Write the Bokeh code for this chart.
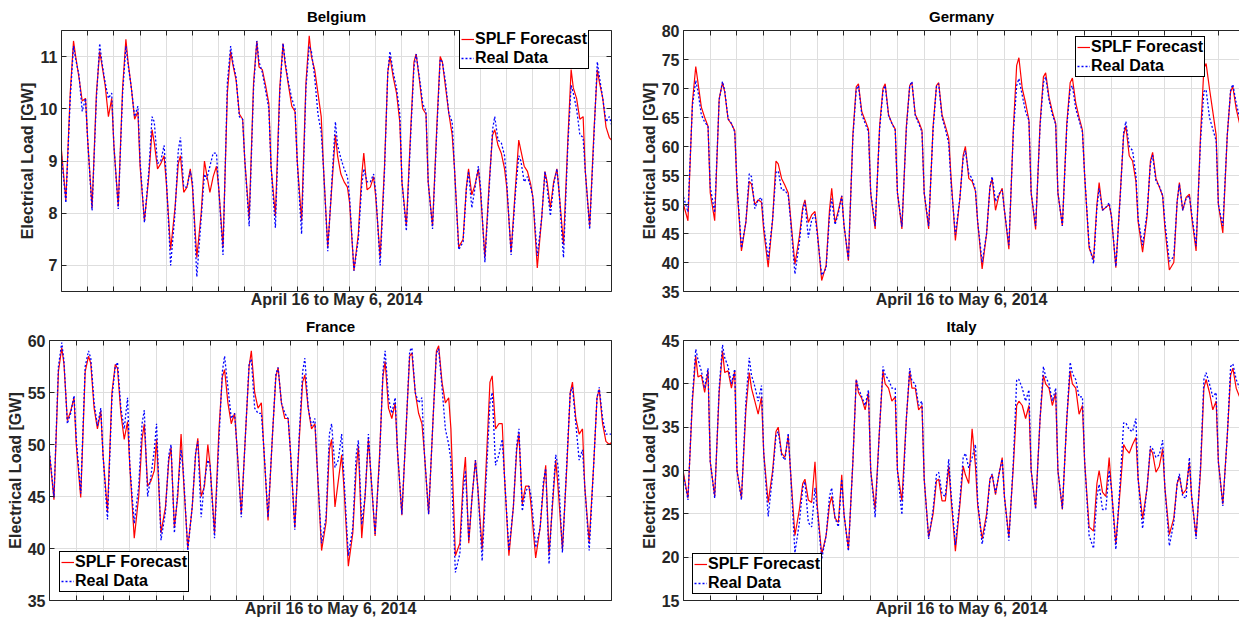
from bokeh.plotting import figure
from bokeh.layouts import column, row
from bokeh.models import (Legend, LegendItem, FixedTicker, LinearAxis, Range1d,
                          ColumnDataSource)
from bokeh.embed import file_html
from bokeh.resources import INLINE

# ---------------- data ----------------
N_DAYS = 21                                  # April 16 .. May 6, 2014
HOURS = [0, 4, 8, 11, 13, 16, 19, 22]        # sampled hours within each day
x_label = "April 16 to May 6, 2014"
y_label = "Electrical Load [GW]"
legend_labels = ["SPLF Forecast", "Real Data"]

belgium_ticks = [7, 8, 9, 10, 11]
germany_ticks = [35, 40, 45, 50, 55, 60, 65, 70, 75, 80]
france_ticks = [35, 40, 45, 50, 55, 60]
italy_ticks = [15, 20, 25, 30, 35, 40, 45]

belgium_forecast = [
    9.2, 8.25, 10.3, 11.3, 11.0, 10.6, 10.15, 10.2,
    9.4, 8.1, 10.3, 11.1, 10.85, 10.45, 9.85, 10.2,
    9.3, 8.13, 10.4, 11.33, 10.9, 10.4, 9.8, 9.95,
    8.9, 7.85, 8.7, 9.6, 9.35, 8.85, 8.95, 9.1,
    8.6, 7.3, 8.1, 8.95, 9.1, 8.4, 8.5, 8.85,
    8.5, 7.15, 8.0, 9.0, 8.75, 8.4, 8.7, 8.9,
    8.5, 7.35, 10.3, 11.1, 10.85, 10.55, 9.9, 9.8,
    9.0, 7.9, 10.5, 11.3, 10.8, 10.75, 10.45, 10.1,
    8.9, 7.95, 10.4, 11.25, 10.85, 10.45, 10.05, 9.95,
    9.0, 7.85, 10.5, 11.4, 11.0, 10.75, 10.3, 9.85,
    8.9, 7.35, 8.6, 9.5, 9.1, 8.75, 8.6, 8.5,
    8.2, 6.9, 7.6, 8.7, 9.15, 8.45, 8.5, 8.7,
    8.3, 7.15, 8.9, 10.7, 11.0, 10.6, 10.3, 9.75,
    8.6, 7.75, 9.6, 10.9, 11.05, 10.55, 10.0, 9.9,
    8.6, 7.75, 9.7, 11.0, 10.9, 10.4, 9.9, 9.5,
    8.9, 7.35, 7.5, 8.5, 8.85, 8.35, 8.55, 8.85,
    8.4, 7.15, 8.6, 9.5, 9.6, 9.3, 9.15, 8.85,
    8.5, 7.25, 8.5, 9.4, 9.2, 8.9, 8.8, 8.55,
    8.3, 6.95, 7.9, 8.8, 8.6, 8.1, 8.6, 8.85,
    8.4, 7.4, 9.4, 10.75, 10.4, 10.2, 9.8, 9.85,
    8.8, 7.75, 9.6, 10.75, 10.5, 10.2, 9.65, 9.45,
    9.4,
]
belgium_real = [
    9.1, 8.2, 10.2, 11.2, 10.95, 10.65, 9.95, 10.2,
    9.4, 8.05, 10.2, 11.25, 10.9, 10.5, 10.2, 10.3,
    9.3, 8.08, 10.3, 11.2, 10.85, 10.4, 9.85, 10.05,
    9.0, 7.82, 8.8, 9.85, 9.75, 8.95, 9.0, 9.3,
    8.7, 7.0, 8.0, 9.2, 9.45, 8.5, 8.5, 8.8,
    8.6, 6.78, 7.9, 8.75, 8.65, 8.9, 9.15, 9.15,
    8.5, 7.2, 10.5, 11.2, 10.9, 10.6, 9.85, 9.8,
    9.0, 7.75, 10.4, 11.3, 10.9, 10.7, 10.35, 10.0,
    8.9, 7.72, 10.3, 11.25, 10.9, 10.5, 10.2, 10.0,
    9.0, 7.6, 10.4, 11.2, 11.1, 10.6, 9.9, 9.55,
    8.9, 7.27, 8.7, 9.75, 9.3, 9.05, 8.85, 8.7,
    8.3, 6.9, 7.5, 8.5, 8.85, 8.6, 8.6, 8.75,
    8.4, 7.0, 8.8, 10.7, 11.1, 10.7, 10.4, 9.9,
    8.6, 7.66, 9.5, 10.8, 11.05, 10.6, 10.1, 9.95,
    8.6, 7.7, 9.6, 10.95, 10.9, 10.5, 9.9, 9.75,
    8.9, 7.3, 7.45, 8.45, 8.8, 8.1, 8.5, 8.9,
    8.5, 7.06, 8.5, 9.6, 9.85, 9.4, 9.35, 9.1,
    8.6, 7.2, 8.4, 9.1, 9.0, 8.6, 8.7, 8.5,
    8.3, 7.18, 7.9, 8.8, 8.5, 7.95, 8.55, 8.85,
    8.4, 7.15, 9.3, 10.45, 10.3, 10.0, 9.5, 9.45,
    8.8, 7.69, 9.5, 10.9, 10.6, 10.2, 9.75, 9.85,
    9.7,
]

germany_forecast = [
    50.0, 47.2, 67.6, 73.8, 71.0, 66.8, 65.0, 63.5,
    52.0, 47.2, 68.2, 71.0, 69.4, 64.7, 63.9, 62.7,
    53.0, 42.0, 47.0, 54.0, 53.5, 50.0, 50.8, 50.4,
    45.5, 39.2, 47.5, 57.5, 57.0, 54.5, 53.3, 52.0,
    48.0, 39.7, 44.5, 49.5, 50.8, 46.9, 48.2, 48.8,
    45.5, 36.9, 39.5, 49.0, 52.8, 46.8, 49.0, 51.5,
    46.5, 40.3, 62.0, 70.3, 70.8, 66.0, 64.5, 63.0,
    52.0, 45.8, 63.5, 70.0, 70.8, 65.5, 64.0, 63.0,
    52.0, 45.8, 63.5, 70.5, 71.0, 65.5, 64.3, 62.8,
    52.0, 45.8, 63.5, 70.5, 71.0, 65.5, 63.5, 61.5,
    55.0, 43.8, 51.0, 58.5, 60.0, 54.5, 54.0, 52.3,
    47.0, 38.9, 45.0, 53.0, 54.5, 49.0, 51.5, 52.8,
    49.0, 42.3, 63.0, 74.0, 75.3, 70.0, 67.5, 64.5,
    52.0, 45.7, 64.0, 72.0, 72.7, 68.5, 66.0, 64.0,
    52.0, 46.3, 64.0, 71.0, 71.8, 67.5, 65.0, 62.8,
    55.0, 42.5, 40.5, 50.0, 53.8, 49.0, 49.5, 50.0,
    48.0, 39.1, 52.0, 62.0, 63.5, 58.4, 57.5, 54.0,
    47.0, 41.8, 48.0, 57.5, 59.0, 54.5, 53.0, 51.5,
    46.0, 38.7, 40.0, 50.5, 53.8, 49.0, 51.2, 51.8,
    48.0, 42.0, 62.0, 73.5, 74.3, 70.0, 66.0, 62.0,
    50.0, 45.1, 62.0, 69.5, 70.3, 66.5, 64.0, 62.0,
    55.0,
]
germany_real = [
    51.3, 48.7, 67.0, 71.4, 69.5, 65.5, 64.2, 63.5,
    53.0, 48.6, 68.0, 71.2, 69.6, 64.8, 64.0, 62.5,
    53.5, 42.5, 47.0, 55.3, 54.8, 49.3, 50.8, 51.2,
    46.5, 40.5, 47.5, 55.5, 55.8, 52.5, 52.5, 51.5,
    47.5, 38.0, 43.5, 49.0, 50.5, 44.3, 47.3, 48.3,
    45.0, 37.8, 39.0, 48.0, 51.0, 46.5, 48.5, 51.5,
    46.5, 40.5, 61.5, 69.8, 70.5, 65.5, 64.0, 62.5,
    52.0, 46.3, 63.0, 69.5, 70.5, 65.3, 64.0, 62.8,
    52.0, 46.2, 63.0, 70.5, 71.2, 65.3, 64.0, 62.5,
    52.0, 46.3, 63.0, 70.3, 70.8, 65.0, 63.0, 60.5,
    54.0, 44.8, 51.0, 58.0, 59.3, 55.3, 54.5, 52.5,
    47.0, 40.0, 45.0, 53.0, 54.8, 50.5, 51.8, 52.5,
    49.0, 43.0, 62.5, 70.5, 71.7, 68.8, 66.0, 64.5,
    52.0, 46.3, 63.5, 71.0, 72.0, 68.0, 65.5, 63.8,
    52.0, 46.3, 63.5, 70.0, 70.5, 66.5, 64.5, 62.5,
    55.0, 43.0, 39.8, 49.5, 52.8, 49.0, 49.5, 50.3,
    48.0, 39.3, 51.5, 62.5, 64.3, 60.0, 59.3, 55.0,
    47.5, 43.0, 48.5, 57.0, 58.5, 54.0, 53.2, 51.5,
    47.0, 40.2, 41.0, 50.5, 53.5, 49.0, 51.0, 51.5,
    48.5, 42.8, 61.0, 69.5, 69.8, 65.0, 63.0, 61.0,
    50.0, 46.3, 62.0, 69.8, 70.7, 67.5, 65.0, 62.5,
    56.0,
]

france_forecast = [
    49.1, 44.7, 57.0, 59.3, 57.7, 52.3, 53.2, 54.5,
    50.0, 44.9, 57.0, 58.5, 57.8, 53.5, 51.5, 53.2,
    49.0, 43.5, 55.0, 57.7, 57.3, 53.0, 50.5, 52.2,
    48.0, 41.0, 45.0, 50.5, 52.0, 46.0, 46.5, 47.5,
    50.5, 41.5, 44.0, 48.5, 49.7, 42.0, 45.0, 51.0,
    47.0, 40.0, 44.0, 49.0, 50.6, 45.0, 46.0, 50.0,
    48.0, 41.5, 51.5, 56.5, 57.2, 54.0, 52.0, 53.0,
    50.0, 43.3, 51.5, 57.5, 59.0, 55.0, 53.5, 54.0,
    50.0, 42.7, 51.0, 56.5, 57.4, 54.0, 52.5, 52.5,
    49.5, 42.0, 50.5, 56.0, 56.7, 53.5, 51.5, 52.0,
    48.0, 39.8, 42.5, 49.5, 50.5, 44.0, 46.5, 49.0,
    46.0, 38.3, 41.5, 47.5, 49.9, 41.0, 45.0, 50.5,
    47.5, 41.2, 49.0, 56.5, 58.0, 53.5, 52.5, 54.0,
    49.5, 43.2, 52.0, 58.5, 58.8, 55.0, 53.0, 52.0,
    49.5, 43.3, 52.5, 59.0, 59.5, 56.0, 54.0, 54.5,
    51.5, 39.3, 40.5, 46.5, 48.8, 40.5, 45.0, 48.5,
    46.0, 39.9, 49.0, 56.0, 56.6, 51.5, 52.0, 52.0,
    47.0, 39.3, 44.0, 49.5, 51.0, 44.3, 46.0, 46.0,
    44.0, 39.1, 42.0, 46.0, 48.0, 39.5, 44.0, 48.5,
    46.0, 39.9, 48.0, 55.0, 56.0, 52.5, 51.0, 51.5,
    46.0, 40.6, 48.0, 54.5, 55.3, 52.0, 50.3, 50.0,
    50.2,
]
france_real = [
    49.3, 44.9, 57.5, 59.8, 58.0, 52.0, 53.0, 54.7,
    50.5, 45.3, 57.5, 59.0, 58.3, 54.0, 51.8, 53.5,
    49.0, 42.8, 54.5, 57.5, 57.9, 53.5, 51.5, 54.5,
    48.0, 42.4, 46.0, 52.0, 53.3, 45.0, 47.0, 49.5,
    52.0, 40.8, 43.5, 49.0, 50.0, 41.5, 45.5, 49.5,
    47.5, 39.8, 44.0, 49.2, 50.3, 43.0, 46.5, 48.5,
    48.0, 41.0, 50.5, 57.0, 58.5, 55.5, 52.5, 53.0,
    50.0, 43.0, 51.5, 57.8, 58.2, 53.5, 53.0, 53.0,
    50.0, 43.0, 51.0, 56.8, 57.4, 54.0, 53.0, 52.5,
    49.5, 41.8, 51.0, 57.0, 58.3, 53.5, 51.8, 52.5,
    48.0, 40.5, 43.0, 51.0, 52.0, 47.8, 48.5, 51.0,
    47.0, 39.3, 42.0, 49.0, 50.4, 42.3, 45.0, 51.0,
    47.5, 41.4, 48.5, 57.0, 59.0, 54.5, 53.0, 54.5,
    49.5, 43.3, 52.0, 59.0, 59.3, 55.0, 54.0, 54.5,
    49.5, 43.3, 52.5, 58.8, 59.2, 55.5, 51.5, 50.0,
    48.5, 37.7, 39.5, 45.5, 47.5, 40.8, 45.0, 48.5,
    46.0, 38.8, 47.5, 54.0, 55.0, 48.0, 49.0, 50.5,
    47.0, 39.8, 44.0, 50.0, 51.5, 43.6, 45.5, 46.0,
    45.0, 40.1, 42.0, 46.5, 47.7, 38.5, 44.5, 49.0,
    48.0, 39.6, 48.5, 55.0, 55.5, 52.0, 48.5, 49.5,
    46.0, 39.8, 48.0, 54.5, 55.5, 52.5, 51.0, 51.0,
    51.0,
]

italy_forecast = [
    29.7, 26.8, 38.0, 43.2, 40.8, 41.0, 39.0, 41.5,
    31.0, 27.0, 39.0, 43.8, 41.3, 41.5, 39.5, 41.5,
    30.0, 26.8, 37.0, 41.3, 39.5, 38.0, 36.5, 38.5,
    32.0, 26.3, 30.0, 34.5, 35.0, 32.0, 31.5, 34.0,
    30.0, 22.5, 25.5, 28.5, 29.0, 26.6, 26.3, 31.0,
    26.0, 20.3, 22.5, 26.0, 27.0, 24.5, 24.0, 29.5,
    25.0, 20.9, 31.0, 40.5, 39.0, 38.3, 37.0, 39.0,
    30.0, 25.5, 35.0, 41.5, 40.0, 39.5, 38.0, 38.5,
    30.0, 26.5, 36.0, 41.5, 39.5, 39.5, 37.0, 37.5,
    29.0, 22.3, 25.0, 28.8, 29.0, 26.5, 26.5, 30.5,
    27.0, 20.7, 26.0, 30.5, 29.5, 28.5, 34.8, 30.5,
    26.0, 22.1, 25.0, 29.0, 29.5, 27.2, 29.5, 31.5,
    27.0, 22.3, 30.5, 37.5, 38.0, 37.5, 36.0, 37.5,
    30.0, 25.7, 36.0, 41.0, 40.0, 39.5, 37.5, 39.0,
    30.0, 25.5, 36.0, 41.5, 40.0, 39.5, 36.5, 37.5,
    31.0, 23.5, 23.0, 28.5, 30.0, 27.5, 27.0, 31.5,
    28.0, 21.5, 28.0, 33.0, 32.5, 32.0, 33.0, 33.8,
    29.0, 24.4, 28.0, 32.5, 32.0, 29.8, 30.5, 32.5,
    28.0, 22.6, 24.5, 28.5, 29.3, 27.3, 27.8, 31.0,
    27.0, 22.4, 30.0, 39.5, 40.5, 39.0, 37.0, 38.0,
    31.0, 26.1, 34.0, 41.0, 41.8, 39.5, 38.5, 38.5,
    38.0,
]
italy_real = [
    29.4, 26.6, 38.5, 44.0, 42.8, 41.5, 39.5, 41.8,
    31.0, 26.8, 39.5, 44.5, 43.0, 42.0, 40.0, 41.7,
    30.0, 26.6, 38.0, 43.0, 41.0, 39.7, 38.0, 39.8,
    32.0, 24.7, 29.5, 34.0, 34.5, 31.8, 31.2, 34.3,
    30.0, 20.5, 24.0, 28.0, 28.7, 24.0, 23.5, 28.0,
    25.5, 19.8, 22.5, 27.0, 28.0, 24.5, 23.5, 29.0,
    25.0, 20.7, 31.0, 40.5, 39.5, 38.5, 37.5, 39.3,
    30.0, 24.6, 35.0, 42.0, 41.0, 40.5, 39.5, 39.5,
    30.0, 24.9, 36.0, 41.8, 40.3, 40.0, 37.5, 38.0,
    29.0, 22.1, 25.5, 29.5, 29.8, 27.3, 27.0, 31.3,
    27.5, 21.4, 26.5, 31.5, 32.0, 30.3, 31.5, 33.0,
    26.5, 21.5, 24.5, 29.0, 29.6, 27.4, 29.5, 31.3,
    27.0, 21.9, 31.0, 40.5, 40.5, 39.5, 38.0, 39.3,
    30.0, 25.5, 36.0, 42.0, 40.8, 40.0, 38.0, 39.5,
    30.0, 25.6, 36.0, 42.5, 41.2, 40.5, 38.5, 38.5,
    31.0, 22.5, 21.0, 27.0, 28.4, 25.5, 25.5, 30.0,
    28.0, 20.9, 29.0, 35.5, 35.5, 34.7, 34.5, 36.0,
    29.0, 23.3, 28.0, 32.8, 32.5, 31.5, 31.8, 33.5,
    28.0, 21.3, 24.0, 28.5, 29.6, 27.0, 26.8, 31.5,
    27.0, 22.1, 30.5, 40.5, 41.3, 40.0, 38.5, 39.0,
    31.0, 25.9, 34.0, 42.0, 42.3, 40.5, 39.5, 39.0,
    39.0,
]

# ---------------- styling ----------------
FONT = "Liberation Sans"
AX = "#262626"
GRID = "#dedede"
RED = "#ff0000"
BLUE = "#0000ff"

time_days = [d + h / 24 for d in range(N_DAYS) for h in HOURS] + [float(N_DAYS)]
day_ticks = list(range(N_DAYS + 1))


def base_axis(ax):
    ax.axis_line_color = AX
    ax.axis_line_width = 1
    ax.major_tick_line_color = AX
    ax.minor_tick_line_color = AX
    ax.major_tick_in = 5
    ax.major_tick_out = 0
    ax.minor_tick_in = 5
    ax.minor_tick_out = 0
    ax.major_label_text_font = FONT
    ax.major_label_text_font_style = "bold"
    ax.major_label_text_font_size = "16px"
    ax.major_label_text_color = AX
    ax.major_label_standoff = 4


def tick_only_axis(ax, positions):
    # inward tick marks without any labels (minor ticks carry no text)
    base_axis(ax)
    ax.ticker = FixedTicker(ticks=[], minor_ticks=positions)
    ax.major_label_standoff = 0


def panel(title, forecast, real, yr, yticks, width, height, border, xend,
          legend_loc, right_axis):
    left, right, top, bottom = border
    p = figure(width=width, height=height, output_backend="svg",
               toolbar_location=None, x_range=Range1d(0, xend),
               y_range=Range1d(*yr), title=title,
               min_border_left=left, min_border_right=right,
               min_border_top=top, min_border_bottom=bottom)
    p.outline_line_color = None
    p.background_fill_color = "white"
    p.border_fill_color = "white"

    p.title.text_font = FONT
    p.title.text_font_size = "15px"
    p.title.text_font_style = "bold"
    p.title.text_color = "#000000"
    p.title.align = "center"
    p.title.standoff = 11

    tick_only_axis(p.xaxis[0], day_ticks)
    p.xaxis.axis_label = x_label
    p.xaxis.axis_label_text_font = FONT
    p.xaxis.axis_label_text_font_size = "16px"
    p.xaxis.axis_label_text_font_style = "bold"
    p.xaxis.axis_label_text_color = AX
    p.xaxis.axis_label_standoff = -1

    base_axis(p.yaxis[0])
    p.yaxis.ticker = FixedTicker(ticks=yticks, minor_ticks=[])
    p.yaxis.axis_label = y_label
    p.yaxis.axis_label_text_font = FONT
    p.yaxis.axis_label_text_font_size = "16px"
    p.yaxis.axis_label_text_font_style = "bold"
    p.yaxis.axis_label_text_color = AX
    p.yaxis.axis_label_standoff = 1

    top_ax = LinearAxis()
    tick_only_axis(top_ax, day_ticks)
    p.add_layout(top_ax, "above")
    if right_axis:
        r_ax = LinearAxis()
        tick_only_axis(r_ax, yticks)
        p.add_layout(r_ax, "right")

    p.xgrid.ticker = FixedTicker(ticks=day_ticks)
    p.ygrid.ticker = FixedTicker(ticks=yticks)
    for g in (p.xgrid[0], p.ygrid[0]):
        g.grid_line_color = GRID
        g.grid_line_width = 1

    src = ColumnDataSource(dict(t=time_days, forecast=forecast, real=real))
    r1 = p.line("t", "forecast", source=src, line_color=RED, line_width=1.2)
    r2 = p.line("t", "real", source=src, line_color=BLUE, line_width=1.3,
                line_dash="2 2")

    leg = Legend(items=[LegendItem(label=legend_labels[0], renderers=[r1]),
                        LegendItem(label=legend_labels[1], renderers=[r2])],
                 location=legend_loc, orientation="vertical",
                 border_line_color="black", border_line_width=1,
                 border_line_alpha=1,
                 background_fill_color="white", background_fill_alpha=1,
                 label_text_font=FONT, label_text_font_size="16px",
                 label_text_font_style="bold", label_text_color="#000000",
                 label_text_line_height=1.0,
                 glyph_width=13, glyph_height=16, label_height=16,
                 label_standoff=1, padding=1, spacing=1, margin=0)
    p.add_layout(leg)
    return p


p_be = panel("Belgium", belgium_forecast, belgium_real, (6.5, 11.5),
             belgium_ticks, 620, 310, (61, 9, 30, 19), 21, (398, 222), True)
p_de = panel("Germany", germany_forecast, germany_real, (35, 80),
             germany_ticks, 619, 310, (63, 0, 30, 19), 20.79, (392, 214), False)
p_fr = panel("France", france_forecast, france_real, (35, 60),
             france_ticks, 620, 309, (49, 9, 29, 17), 21, (10, 8), True)
p_it = panel("Italy", italy_forecast, italy_real, (15, 45),
             italy_ticks, 619, 309, (63, 0, 29, 17), 20.79, (9, 6), False)

layout = column(row(p_be, p_de, spacing=0), row(p_fr, p_it, spacing=0),
                spacing=0)

open("out.html", "w").write(file_html(layout, INLINE))
